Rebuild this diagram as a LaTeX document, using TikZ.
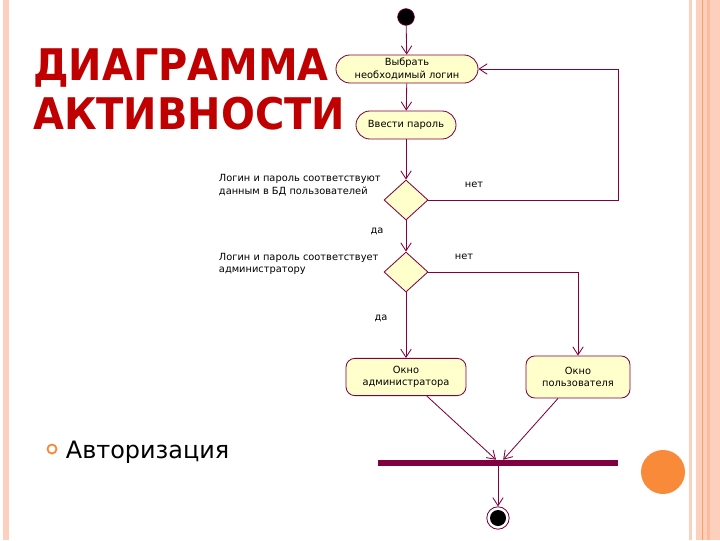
\documentclass[tikz,border=0pt]{standalone}
\usepackage{fontspec}
\setmainfont{DejaVu Sans}
\usetikzlibrary{positioning,arrows.meta,shapes.geometric}
\definecolor{uml}{HTML}{800040}
\definecolor{actfill}{HTML}{FFFFCC}
\definecolor{titlered}{HTML}{C00000}
\definecolor{peach}{HTML}{FCD0BC}
\definecolor{peachdark}{HTML}{FBBB9C}
\definecolor{dotorange}{HTML}{F88A3A}

\tikzset{
  act/.style={draw=uml, fill=actfill, align=center, inner sep=1pt, line width=0.6pt},
  choice/.style={diamond, draw=uml, fill=actfill, inner sep=0pt, minimum width=1.1cm, minimum height=1cm, line width=0.6pt},
  flow/.style={->, draw=uml, line width=0.6pt}
}

\begin{document}
\begin{tikzpicture}[x=0.025cm, y=-0.025cm, every node/.style={font=\fontsize{7}{9}\selectfont}, >={Straight Barb[length=2mm,width=2.6mm]}]
\useasboundingbox (0,0) rectangle (720,540);
% slide frame
\fill[peach] (3,0) rectangle (9,540);
\fill[peach] (689,0) rectangle (692,540);
\fill[peach] (696,0) rectangle (720,540);
\fill[peachdark] (707,0) rectangle (710,540);
\draw[dotorange!80, line width=0.5pt] (702,0) -- (702,540);
\fill[dotorange] (663,472) circle (22);

% title and bullet
\node[anchor=north west, inner sep=0pt, text=titlered, font=\fontsize{31}{35}\bfseries\selectfont] (title) at (33,46)
  {\scalebox{0.915}[1]{\begin{tabular}{@{}l@{}}ДИАГРАММА\\АКТИВНОСТИ\end{tabular}}};
\draw[dotorange, line width=1.3pt] (52,449) circle (4.5);
\node[anchor=west, font=\fontsize{17}{20}\selectfont] (auth) at (61,452) {Авторизация};

% activity diagram
\node[circle, fill=black, draw=uml, minimum size=0.42cm, inner sep=0pt] (start) at (406,17) {};
\node[act, rounded corners=0.35cm, minimum width=3.55cm, minimum height=0.7cm] (pick) at (407,69) {Выбрать\\необходимый логин};
\node[act, rounded corners=0.35cm, minimum width=2.5cm, minimum height=0.7cm] (pass) at (406,125) {Ввести пароль};
\node[choice] (d1) at (406,200) {};
\node[choice] (d2) at (406,272) {};
\node[act, rounded corners=0.22cm, minimum width=3cm, minimum height=0.93cm] (admin) at (406,377) {Окно\\администратора};
\node[act, rounded corners=0.22cm, minimum width=2.6cm, minimum height=1.05cm] (user) at (578,377) {Окно\\пользователя};
\node[fill=uml, minimum width=5.98cm, minimum height=0.15cm, inner sep=0pt] (bar) at (498,463) {};
\node[circle, draw=uml, fill=white, minimum size=0.56cm, inner sep=0pt, line width=0.6pt] (end) at (498,518) {};
\fill[black] (end) circle (8);
\coordinate (loop) at (618,200);

\node[anchor=west, align=left] (q1) at (214,185) {Логин и пароль соответствуют\\данным в БД пользователей};
\node[anchor=west, align=left] (q2) at (214,264) {Логин и пароль соответствует\\администратору};
\node (no1) at (474,185) {нет};
\node (no2) at (464,257) {нет};
\node (yes1) at (377,231) {да};
\node (yes2) at (381,318) {да};

\draw[flow] (start) -- (pick);
\draw[flow] (pick) -- (pass);
\draw[flow] (pass) -- (d1);
\draw[flow] (d1) -- (d2);
\draw[flow] (d2) -- (admin);
\draw[flow] (d1.east) -- (loop) |- (pick.east);
\draw[flow] (d2.east) -| (user.north);
\draw[flow] ([xshift=0.52cm]admin.south) -- ([xshift=-0.05cm]bar.north);
\draw[flow] ([xshift=-0.5cm]user.south) -- ([xshift=0.13cm]bar.north);
\draw[flow] (bar) -- (end);
\end{tikzpicture}
\end{document}
